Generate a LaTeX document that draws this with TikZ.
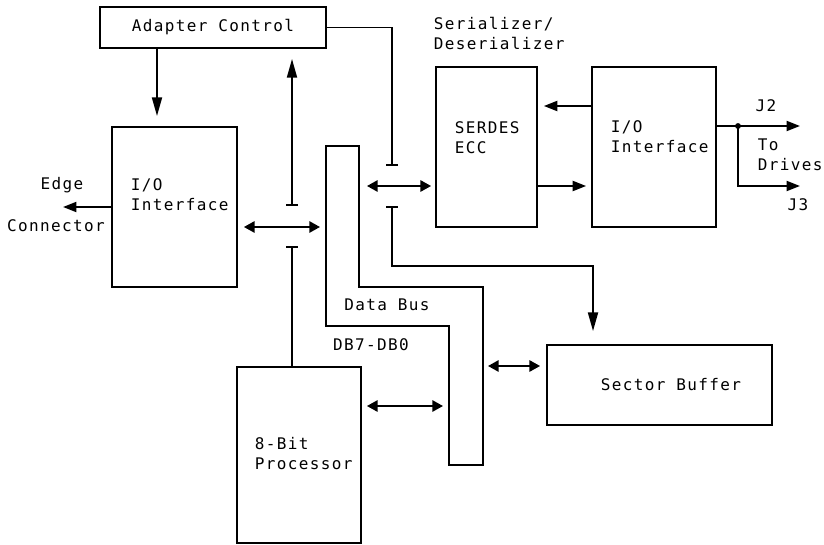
\documentclass[tikz,border=0pt]{standalone}
\usepackage{fontspec}
\newfontfamily\gothic{DejaVu Sans Mono}[LetterSpace=8.5]
\usetikzlibrary{arrows.meta}

\begin{document}
\begin{tikzpicture}[
    x=0.75pt, y=-0.75pt,
    line width=1.4pt,
    font=\gothic\fontsize{12}{15}\selectfont,
    box/.style={rectangle, draw, inner sep=0pt},
    lbl/.style={align=left, inner sep=0pt},
    arrow/.style={-{Triangle[length=10pt, width=7.5pt]}},
    longarrow/.style={-{Triangle[length=14pt, width=7.5pt]}},
    bidir/.style={{Triangle[length=8pt, width=8.5pt]}-{Triangle[length=8pt, width=8.5pt]}},
    teearrow/.style={{Bar[width=9pt]}-{Triangle[length=14pt, width=7.5pt]}},
    tee/.style={{Bar[width=9pt]}-}
]
    \useasboundingbox (0,0) rectangle (824,545);

    % blocks
    \node[box, minimum width=169.5pt, minimum height=30.75pt] (ctrl) at (213,27.5) {Adapter Control};
    \node[box, minimum width=93.75pt, minimum height=120pt] (hostio) at (174.5,207) {};
    \node[box, minimum width=93pt, minimum height=132pt] (proc) at (299,455) {};
    \node[box, minimum width=75.75pt, minimum height=120pt] (serdes) at (486.5,147) {};
    \node[box, minimum width=93pt, minimum height=120pt] (driveio) at (654,147) {};
    \node[box, minimum width=168.75pt, minimum height=60pt] (buffer) at (659.5,385) {};

    % block texts
    \node[lbl, anchor=west] (hostiotxt) at (130,195) {I/O\\Interface};
    \node[lbl, anchor=west] (proctxt) at (254,454) {8-Bit\\Processor};
    \node[lbl, anchor=west] (serdestxt) at (454,137.5) {SERDES\\ECC};
    \node[lbl, anchor=west] (driveiotxt) at (610,137) {I/O\\Interface};
    \node[lbl] (buffertxt) at (671,385) {Sector Buffer};

    % labels
    \node[lbl, anchor=west] (sdlbl) at (433,33) {Serializer/\\Deserializer};
    \node[lbl] (edge) at (62,185) {Edge};
    \node[lbl] (conn) at (56,226) {Connector};
    \node[lbl] (j2) at (766,106) {J2};
    \node[lbl, anchor=west] (todrives) at (757,155) {To\\Drives};
    \node[lbl] (j3) at (798,205) {J3};
    \node[lbl] (datbus) at (387,305) {Data Bus};
    \node[lbl] (dbrange) at (371,345) {DB7-DB0};

    % data bus
    \draw (326,146) coordinate (busTL) -- (359,146) coordinate (busTR) -- (359,287)
        -- (483,287) coordinate (busOR) -- (483,465) -- (449,465)
        -- (449,326) coordinate (busIL) -- (326,326) -- cycle;

    % tap points
    \coordinate (drop) at (157,48);
    \coordinate (teeL1) at (292,206);
    \coordinate (tapL) at (292,227);
    \coordinate (teeL2) at (292,246);
    \coordinate (teeR1) at (392,166);
    \coordinate (tapR) at (392,186);
    \coordinate (teeR2) at (392,206);
    \coordinate (bufbend) at (593,266);
    \coordinate (tapP) at (400,406);
    \coordinate (tapB) at (515,366);
    \coordinate (rdY) at (560,106);
    \coordinate (wrY) at (560,186);
    \coordinate (split) at (738,126);
    \coordinate (j2end) at (800,126);
    \coordinate (j3end) at (800,186);
    \coordinate (edgeend) at (63,207);

    % connectors
    \draw[longarrow, shorten >=7.5pt] (drop) -- (drop |- hostio.north);
    \draw[arrow] (hostio.west) -- (edgeend);
    \draw[teearrow, shorten >=7.5pt] (teeL1) -- (teeL1 |- ctrl.south);
    \draw[tee] (teeL2) -- (teeL2 |- proc.north);
    \draw[bidir, shorten <=4.5pt, shorten >=4.5pt] (tapL -| hostio.east) -- (tapL -| busTL);
    \draw[tee] (teeR1) |- (ctrl.east);
    \draw[bidir, shorten <=6pt, shorten >=3pt] (tapR -| busTR) -- (tapR -| serdes.west);
    \draw[teearrow, shorten >=9.75pt] (teeR2) |- (bufbend) -- (bufbend |- buffer.north);
    \draw[bidir, shorten <=3.75pt, shorten >=4.5pt] (tapP -| proc.east) -- (tapP -| busIL);
    \draw[bidir, shorten <=3.75pt, shorten >=4.5pt] (tapB -| busOR) -- (tapB -| buffer.west);
    \draw[arrow, shorten >=4.5pt] (rdY -| driveio.west) -- (rdY -| serdes.east);
    \draw[arrow, shorten >=3.75pt] (wrY -| serdes.east) -- (wrY -| driveio.west);
    \draw (split -| driveio.east) -- (split);
    \fill (split) circle[radius=2.2pt];
    \draw[arrow] (split) -- (j2end);
    \draw[arrow] (split) |- (j3end);
\end{tikzpicture}
\end{document}
